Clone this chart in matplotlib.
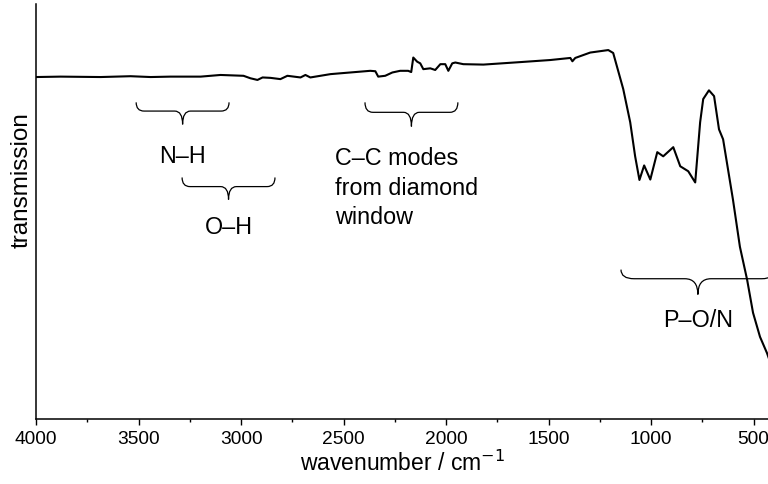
import matplotlib
matplotlib.use("Agg")
import matplotlib.pyplot as plt
from matplotlib.path import Path
from matplotlib.patches import PathPatch
from matplotlib.ticker import MultipleLocator

plt.rcParams['font.family'] = ['Liberation Sans', 'DejaVu Sans']

# ---- data ----
wavenumber = [4000, 3880, 3685, 3539, 3441, 3344, 3197, 3100, 2988, 2954, 2920, 2895,
              2856, 2808, 2774, 2710, 2686, 2662, 2613, 2564, 2516, 2467, 2370, 2345,
              2331, 2297, 2262, 2224, 2185, 2170, 2160, 2141, 2126, 2111, 2077, 2053,
              2028, 2004, 1989, 1970, 1955, 1916, 1818, 1638, 1492, 1394, 1384, 1370,
              1297, 1209, 1185, 1136, 1102, 1078, 1057, 1034, 1004, 970, 941, 892,
              858, 819, 785, 761, 746, 718, 693, 669, 649, 601, 567, 532, 503, 469,
              435, 420]
transmission = [82.4, 82.5, 82.4, 82.6, 82.4, 82.5, 82.5, 82.9, 82.7, 82.1, 81.7, 82.3,
                82.2, 81.9, 82.7, 82.3, 82.9, 82.3, 82.7, 83.1, 83.3, 83.5, 83.9, 83.8,
                82.5, 82.7, 83.5, 83.9, 83.9, 83.6, 87.1, 86.1, 85.7, 84.3, 84.5, 84.1,
                85.5, 85.5, 83.9, 85.7, 85.9, 85.5, 85.4, 86.0, 86.5, 87.0, 86.2, 87.0,
                88.3, 88.9, 88.2, 79.5, 71.5, 63.3, 57.6, 61.1, 57.7, 64.3, 63.3, 65.5,
                60.9, 59.7, 57.0, 71.5, 77.1, 79.2, 77.8, 69.8, 67.4, 52.9, 41.5, 33.6,
                25.6, 19.8, 15.9, 13.8]

band_labels = ["N\u2013H", "O\u2013H", "C\u2013C modes\nfrom diamond\nwindow", "P\u2013O/N"]
band_centers = [3285, 3061, 2169, 772]
band_widths = [453, 453, 453, 750]

fig = plt.figure(figsize=(7.68, 4.84), dpi=100)
ax = fig.add_axes([36/768, 65/484, 732/768, 415/484])

ax.plot(wavenumber, transmission, color='black', lw=1.5, solid_joinstyle='round')
ax.set_xlim(4000, 430)
ax.set_ylim(0, 100)

for s in ['top', 'right']:
    ax.spines[s].set_visible(False)
for s in ['left', 'bottom']:
    ax.spines[s].set_linewidth(1.1)

ax.set_yticks([])
ax.xaxis.set_major_locator(MultipleLocator(500))
ax.xaxis.set_minor_locator(MultipleLocator(250))
ax.tick_params(axis='x', which='major', direction='out', length=4, width=1.0,
               labelsize=13.8, pad=4.5)
ax.tick_params(axis='x', which='minor', direction='out', length=2.5, width=1.0)
ax.set_xlabel("wavenumber / cm$^{-1}$", fontsize=16.5, labelpad=2)
ax.set_ylabel("transmission", fontsize=17.5)
ax.yaxis.set_label_coords(-0.005, 0.576)


def brace(ax, xc, width, y_tip, y_line, y_pt, lw=0.9):
    x1 = xc + width / 2
    x2 = xc - width / 2
    r = width * 0.085
    sg = -1
    verts = [(x1, y_tip), (x1, y_line), (x1 + sg * r, y_line),
             (xc - sg * r, y_line),
             (xc, y_line), (xc, y_pt),
             (xc, y_line), (xc + sg * r, y_line),
             (x2 - sg * r, y_line),
             (x2, y_line), (x2, y_tip)]
    codes = [Path.MOVETO, Path.CURVE3, Path.CURVE3, Path.LINETO,
             Path.CURVE3, Path.CURVE3, Path.CURVE3, Path.CURVE3,
             Path.LINETO, Path.CURVE3, Path.CURVE3]
    ax.add_patch(PathPatch(Path(verts, codes), fill=False, lw=lw,
                           edgecolor='black', clip_on=False))


# braces (tip, line, point heights)
brace(ax, band_centers[0], band_widths[0], 76.3, 74.2, 71.0)
brace(ax, band_centers[1], band_widths[1], 58.2, 56.0, 52.9)
brace(ax, band_centers[2], band_widths[2], 76.3, 73.9, 70.5)
brace(ax, band_centers[3], band_widths[3], 36.0, 33.8, 30.0)

fs = 16.8
ax.text(band_centers[0], 63.3, band_labels[0], ha='center', va='center', fontsize=fs)
ax.text(band_centers[1], 46.1, band_labels[1], ha='center', va='center', fontsize=fs)
ax.text(2540, 55.6, band_labels[2], ha='left', va='center', fontsize=fs,
        linespacing=1.35)
ax.text(band_centers[3], 23.7, band_labels[3], ha='center', va='center', fontsize=fs)

fig.savefig("out.png", dpi=100)
